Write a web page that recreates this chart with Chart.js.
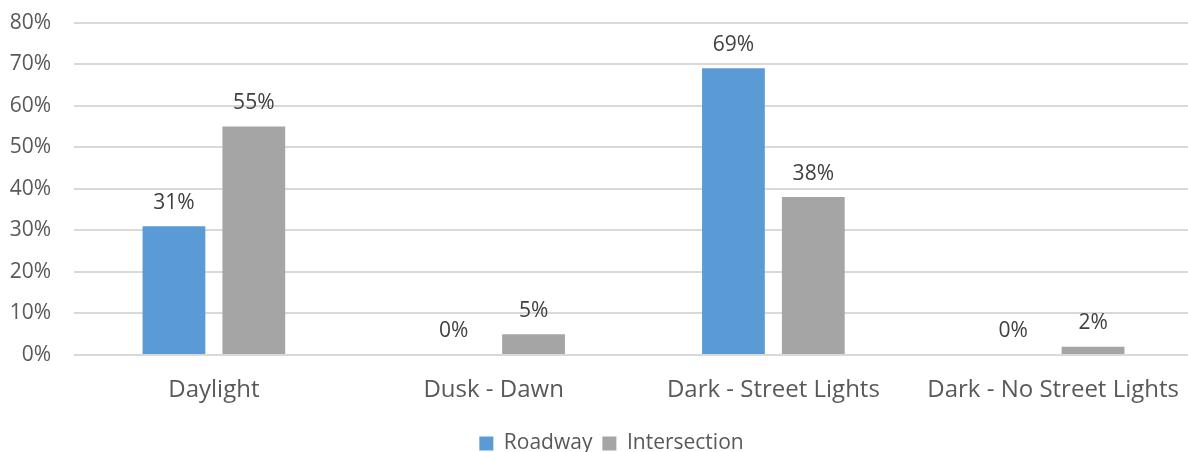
<!DOCTYPE html>
<html>
<head>
<meta charset="utf-8">
<script src="https://cdn.jsdelivr.net/npm/chart.js@4"></script>
<style>
  html, body { margin: 0; padding: 0; background: #fff; overflow: hidden; }
  #wrap { width: 1193px; height: 465px; margin-top: -13px; }
</style>
</head>
<body>
<div id="wrap"><canvas id="lightChart"></canvas></div>
<script>
'use strict';

// ----- data -----
const categories = ['Daylight', 'Dusk - Dawn', 'Dark - Street Lights', 'Dark - No Street Lights'];
const roadway = [31, 0, 69, 0];
const intersection = [55, 5, 38, 2];
const yTicks = [0, 10, 20, 30, 40, 50, 60, 70, 80];

Chart.defaults.font.family = "'Open Sans', 'Noto Sans', sans-serif";
Chart.defaults.color = '#595959';

// value labels above each bar
const barLabels = {
  id: 'barLabels',
  afterDatasetsDraw(chart) {
    const ctx = chart.ctx;
    ctx.save();
    ctx.font = "21px 'Open Sans', sans-serif";
    ctx.fillStyle = '#404040';
    ctx.textAlign = 'center';
    ctx.textBaseline = 'bottom';
    chart.data.datasets.forEach((ds, i) => {
      chart.getDatasetMeta(i).data.forEach((bar, j) => {
        ctx.fillText(ds.data[j] + '%', bar.x, bar.y - 13);
      });
    });
    ctx.restore();
  }
};

// nudge the legend a little to the right of centre
const legendShift = {
  id: 'legendShift',
  afterLayout(chart) {
    if (chart.legend) chart.legend.left += 30;
  }
};

new Chart(document.getElementById('lightChart'), {
  type: 'bar',
  data: {
    labels: categories,
    datasets: [
      { label: 'Roadway', data: roadway, backgroundColor: '#5B9BD5' },
      { label: 'Intersection', data: intersection, backgroundColor: '#A5A5A5' }
    ]
  },
  options: {
    responsive: true,
    maintainAspectRatio: false,
    animation: false,
    categoryPercentage: 0.571,
    barPercentage: 0.786,
    layout: { padding: { top: 0, right: 0, left: 0, bottom: -12 } },
    plugins: {
      legend: {
        position: 'bottom',
        labels: {
          boxWidth: 14, boxHeight: 14, padding: 10,
          color: '#595959',
          font: { size: 21 }
        }
      },
      tooltip: { enabled: false }
    },
    scales: {
      y: {
        min: 0,
        max: 80,
        afterBuildTicks: s => { s.ticks = yTicks.map(v => ({ value: v })); },
        afterFit: s => { s.width = 74; },
        ticks: { callback: v => v + '%', padding: 23, font: { size: 21 }, color: '#595959' },
        grid: { color: '#D9D9D9', lineWidth: 2, drawTicks: false },
        border: { display: false }
      },
      x: {
        grid: { display: false },
        border: { display: false },
        afterFit: s => { s.height = 68; },
        ticks: { padding: 13, font: { size: 24 }, color: '#595959' }
      }
    }
  },
  plugins: [barLabels, legendShift]
});
</script>
</body>
</html>
